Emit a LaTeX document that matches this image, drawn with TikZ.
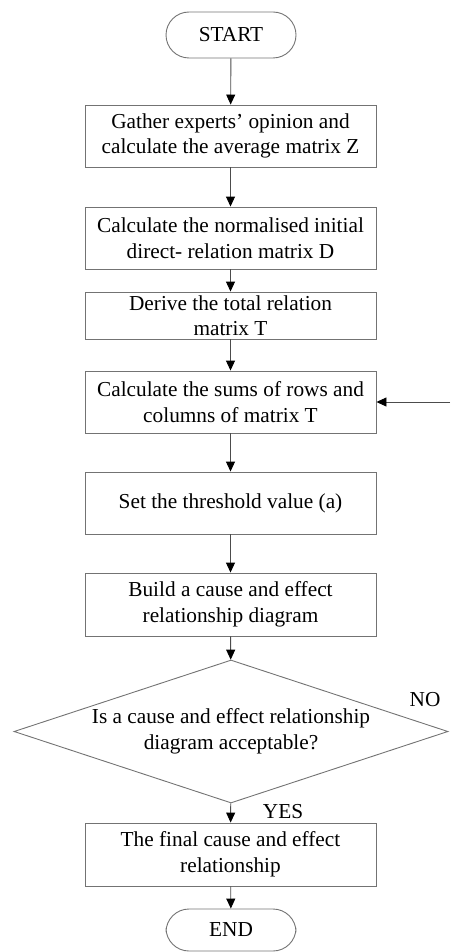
\documentclass[tikz,border=0pt]{standalone}
\usepackage{fontspec}
\setmainfont{Liberation Serif}
\usetikzlibrary{positioning}
\usetikzlibrary{shapes.geometric}
\usetikzlibrary{arrows.meta}
\tikzset{flowbox/.style={draw=black!55, line width=0.9pt, minimum width=291pt,
align=center, inner sep=0pt, font=\fontsize{21.3}{25.5}\selectfont},
terminal/.style={flowbox, minimum width=130pt, minimum height=46pt, rounded corners=23pt},
flowarrow/.style={draw=black!70, line width=0.9pt, -{Triangle[length=10pt,width=9pt,color=black]}}}

\begin{document}
\begin{tikzpicture}[x=1pt, y=-1pt, decision/.style={flowbox, shape=diamond, aspect=3.03,
minimum width=434pt, minimum height=143pt}]
	\useasboundingbox (0,0) rectangle (450,952);
	\node[terminal] (start) at (231,35) {START};
	\node[flowbox, minimum height=62pt] (gather) at (230.5,136) {Gather experts' opinion and\\calculate the average matrix Z};
	\node[flowbox, minimum height=62pt] (normal) at (230.5,238) {Calculate the normalised initial\\direct- relation matrix D};
	\node[flowbox, minimum height=47pt] (total) at (230.5,315.5) {Derive the total relation\\matrix T};
	\node[flowbox, minimum height=62pt] (sums) at (230.5,402) {Calculate the sums of rows and\\columns of matrix T};
	\node[flowbox, minimum height=62pt] (thresh) at (230.5,503) {Set the threshold value (a)};
	\node[flowbox, minimum height=63pt] (build) at (230.5,604.5) {Build a cause and effect\\relationship diagram};
	\node[decision] (accept) at (231,731.5) {Is a cause and effect relationship\\diagram acceptable?};
	\node[flowbox, minimum height=63pt] (final) at (230.5,854.5) {The final cause and effect\\relationship};
	\node[terminal, minimum height=42pt] (end) at (231,930) {END};
	\coordinate (back) at (450,402);
	% labels
	\node[font=\fontsize{21.3}{25.5}\selectfont] (no) at (425,700) {NO};
	\node[font=\fontsize{21.3}{25.5}\selectfont] (yes) at (283,812) {YES};
	% connectors
	\draw[flowarrow] (start) -- (gather);
	\draw[flowarrow] (gather) -- (normal);
	\draw[flowarrow] (normal) -- (total);
	\draw[flowarrow] (total) -- (sums);
	\draw[flowarrow] (sums) -- (thresh);
	\draw[flowarrow] (thresh) -- (build);
	\draw[flowarrow] (build) -- (accept);
	\draw[flowarrow] (accept) -- (final);
	\draw[flowarrow] (final) -- (end);
	\draw[flowarrow] (back) -- (sums.east);
\end{tikzpicture}
\end{document}
